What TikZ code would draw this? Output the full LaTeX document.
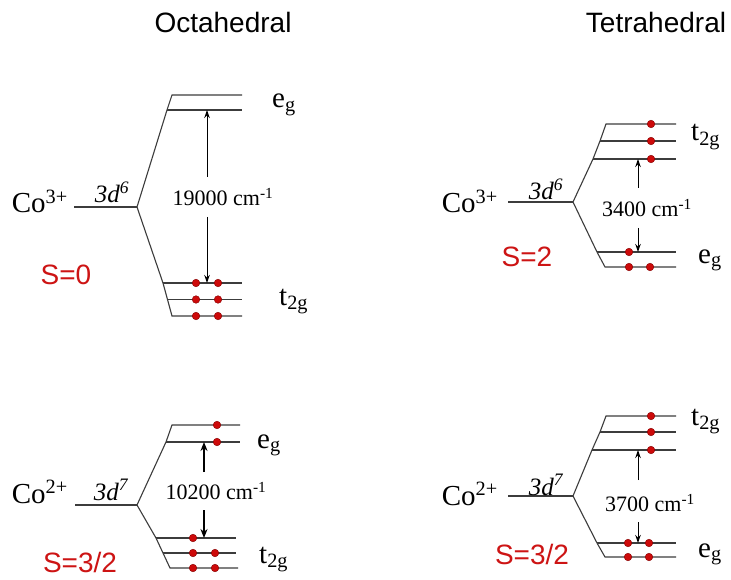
\documentclass[tikz,border=0pt]{standalone}
\usepackage{fontspec}
\setmainfont{Liberation Serif}
\newfontfamily\arialfont{Liberation Sans}
\usetikzlibrary{arrows.meta}
\definecolor{lev}{RGB}{60,60,60}
\definecolor{dotred}{RGB}{205,10,10}
\definecolor{dotedge}{RGB}{130,0,0}
\definecolor{spinred}{RGB}{205,20,20}
\begin{document}
\begin{tikzpicture}[x=1pt,y=-1pt,
  level/.style={draw=lev,line width=1.1pt},
  elec/.style={fill=dotred,draw=dotedge,line width=0.4pt},
  gap/.style={-{Stealth[length=8pt,width=5.5pt]},line width=1pt},
  gapbold/.style={-{Stealth[length=9pt,width=7pt]},line width=1.8pt},
  header/.style={font=\arialfont\fontsize{28}{30}\selectfont,inner sep=0pt},
  ion/.style={font=\fontsize{29}{32}\selectfont,anchor=base east,inner sep=0pt},
  conf/.style={font=\fontsize{25}{28}\selectfont\itshape,anchor=base,inner sep=0pt},
  orb/.style={font=\fontsize{29}{32}\selectfont,anchor=base west,inner sep=0pt},
  split/.style={font=\fontsize{22}{26}\selectfont,inner sep=0pt},
  spin/.style={font=\arialfont\fontsize{28}{32}\selectfont,text=spinred,inner sep=0pt}]
\useasboundingbox[fill=white] (0,0) rectangle (731,580);

% headers
\node[header] (hO) at (223,22) {Octahedral};
\node[header] (hT) at (656,22) {Tetrahedral};

% ---------- Panel A: octahedral Co3+ ----------
\node[ion] (coA) at (68,213) {Co\textsuperscript{3+}};
\coordinate (cA) at (137,207);
\coordinate (sA) at (74,207);
\draw[level] (sA) -- (cA);
\node[conf] (dA) at (112,203) {3d\textsuperscript{6}};
\draw[level] (cA) -- (167,110) -- (172,95) -- (242,95);
\draw[level] (167,110) -- (242,110);
\draw[level] (cA) -- (163,283) -- (172,316) -- (242,316);
\draw[level] (163,283) -- (242,283);
\draw[level] (167.4,299.5) -- (242,299.5);
\node[split] (gA) at (223,197) {19000 cm\textsuperscript{-1}};
\coordinate (aAt) at (207,110);
\coordinate (aAb) at (207,283);
\coordinate (aAu) at (207,177);
\coordinate (aAd) at (207,217);
\draw[gap] (aAu) -- (aAt);
\draw[gap] (aAd) -- (aAb);
\foreach \y in {283,299.5,316}{
  \filldraw[elec] (196,\y) circle (3.8pt);
  \filldraw[elec] (218,\y) circle (3.8pt);
}
\node[orb] (eA) at (272,108) {e\textsubscript{g}};
\node[orb] (tA) at (279,305) {t\textsubscript{2g}};
\node[spin] (SA) at (66,275) {S=0};

% ---------- Panel B: tetrahedral Co3+ ----------
\node[ion] (coB) at (498,213) {Co\textsuperscript{3+}};
\coordinate (cB) at (573,202);
\coordinate (sB) at (508,202);
\draw[level] (sB) -- (cB);
\node[conf] (dB) at (546,200) {3d\textsuperscript{6}};
\draw[level] (cB) -- (593,159) -- (600,141) -- (606,124) -- (676,124);
\draw[level] (600,141) -- (676,141);
\draw[level] (593,159) -- (676,159);
\draw[level] (cB) -- (597,252) -- (605,267) -- (676,267);
\draw[level] (597,252) -- (676,252);
\node[split] (gB) at (647,208) {3400 cm\textsuperscript{-1}};
\coordinate (aBt) at (638,159);
\coordinate (aBb) at (638,252);
\coordinate (aBu) at (638,188);
\coordinate (aBd) at (638,228);
\draw[gap] (aBu) -- (aBt);
\draw[gap] (aBd) -- (aBb);
\foreach \y in {124,141,159}{ \filldraw[elec] (651,\y) circle (3.8pt); }
\filldraw[elec] (629,252) circle (3.8pt);
\filldraw[elec] (629,267) circle (3.8pt);
\filldraw[elec] (650,267) circle (3.8pt);
\node[orb] (tB) at (691,141) {t\textsubscript{2g}};
\node[orb] (eB) at (698,263) {e\textsubscript{g}};
\node[spin] (SB) at (527,257) {S=2};

% ---------- Panel C: octahedral Co2+ ----------
\node[ion] (coC) at (68,503) {Co\textsuperscript{2+}};
\coordinate (cC) at (137,505);
\coordinate (sC) at (75,505);
\draw[level] (sC) -- (cC);
\node[conf] (dC) at (111,500) {3d\textsuperscript{7}};
\draw[level] (cC) -- (166,442) -- (172,425) -- (240,425);
\draw[level] (166,442) -- (240,442);
\draw[level] (cC) -- (156,538) -- (163,553) -- (170,568) -- (238,568);
\draw[level] (156,538) -- (236,538);
\draw[level] (163,553) -- (236,553);
\node[split] (gC) at (216,491) {10200 cm\textsuperscript{-1}};
\coordinate (aCt) at (204,442);
\coordinate (aCb) at (204,538);
\coordinate (aCu) at (204,472);
\coordinate (aCd) at (204,510);
\draw[gapbold] (aCu) -- (aCt);
\draw[gapbold] (aCd) -- (aCb);
\filldraw[elec] (217,425) circle (3.8pt);
\filldraw[elec] (217,442) circle (3.8pt);
\filldraw[elec] (193,538) circle (3.8pt);
\foreach \y in {553,568}{
  \filldraw[elec] (193,\y) circle (3.8pt);
  \filldraw[elec] (215,\y) circle (3.8pt);
}
\node[orb] (eC) at (257,448) {e\textsubscript{g}};
\node[orb] (tC) at (259,563) {t\textsubscript{2g}};
\node[spin] (SC) at (80,562) {S=3/2};

% ---------- Panel D: tetrahedral Co2+ ----------
\node[ion] (coD) at (498,505) {Co\textsuperscript{2+}};
\coordinate (cD) at (573,496);
\coordinate (sD) at (508,496);
\draw[level] (sD) -- (cD);
\node[conf] (dD) at (546,495) {3d\textsuperscript{7}};
\draw[level] (cD) -- (592,450) -- (600,432) -- (606,416) -- (676,416);
\draw[level] (600,432) -- (676,432);
\draw[level] (592,450) -- (676,450);
\draw[level] (cD) -- (597,543) -- (605,557) -- (676,557);
\draw[level] (597,543) -- (676,543);
\node[split] (gD) at (650,503) {3700 cm\textsuperscript{-1}};
\coordinate (aDt) at (638,450);
\coordinate (aDb) at (638,543);
\coordinate (aDu) at (638,480);
\coordinate (aDd) at (638,522);
\draw[gap] (aDu) -- (aDt);
\draw[gap] (aDd) -- (aDb);
\foreach \y in {416,432,450}{ \filldraw[elec] (651,\y) circle (3.8pt); }
\foreach \y in {543,557}{
  \filldraw[elec] (628,\y) circle (3.8pt);
  \filldraw[elec] (649,\y) circle (3.8pt);
}
\node[orb] (tD) at (691,425) {t\textsubscript{2g}};
\node[orb] (eD) at (698,557) {e\textsubscript{g}};
\node[spin] (SD) at (532,554) {S=3/2};
\end{tikzpicture}
\end{document}
